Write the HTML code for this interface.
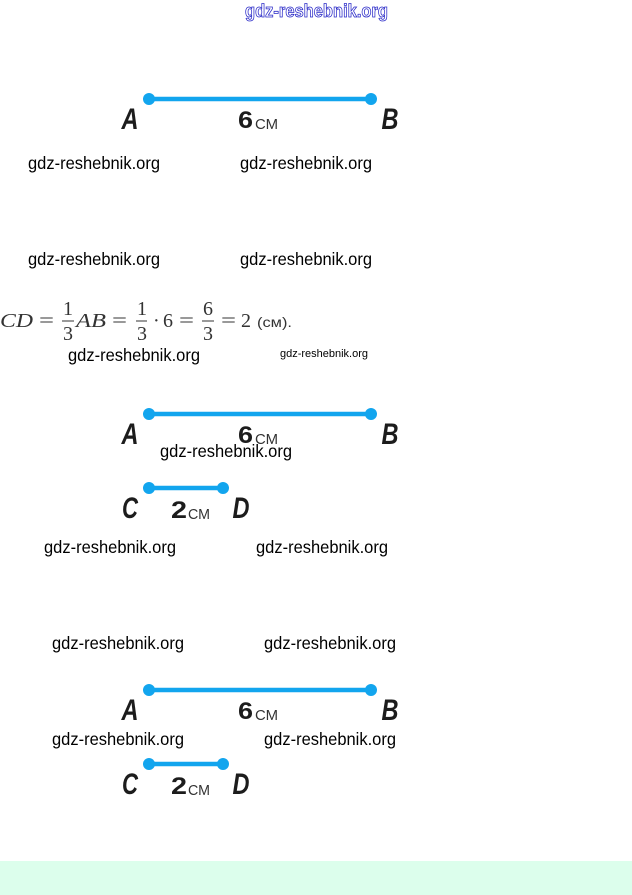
<!DOCTYPE html>
<html><head><meta charset="utf-8"><style>
html,body{margin:0;padding:0;background:#fff;width:632px;height:895px;overflow:hidden}
svg{display:block}
.w{font-family:"Liberation Sans",sans-serif;font-size:17.5px;fill:#000}
.l{font-family:"Liberation Sans",sans-serif;font-size:30px;font-weight:bold;font-style:italic;fill:#1c1c1c}
.n{font-family:"Liberation Sans",sans-serif;font-size:24px;font-weight:bold;fill:#1c1c1c}
.c{font-family:"Liberation Sans",sans-serif;font-size:14.5px;fill:#333}
.m{font-family:"Liberation Serif",serif;font-size:20px;fill:#333}
.i{font-style:italic}
</style></head><body>
<svg width="632" height="895" viewBox="0 0 632 895" xmlns="http://www.w3.org/2000/svg">
<rect width="632" height="895" fill="#fff"/>
<rect y="861" width="632" height="34" fill="#dcfeec"/>
<text x="245" y="17" font-family="Liberation Sans, sans-serif" font-size="18" font-weight="bold" fill="#fff" stroke="#2a2ac8" stroke-width="0.8" textLength="143" lengthAdjust="spacingAndGlyphs">gdz-reshebnik.org</text>

<g>
<line x1="149" y1="99" x2="371" y2="99" stroke="#12a5ee" stroke-width="4.5"/>
<circle cx="149" cy="99" r="6" fill="#12a5ee"/><circle cx="371" cy="99" r="6" fill="#12a5ee"/>
<text class="l" x="121.5" y="129" textLength="17" lengthAdjust="spacingAndGlyphs">A</text>
<text class="l" x="381.5" y="129" textLength="17" lengthAdjust="spacingAndGlyphs">B</text>
<text class="n" x="238" y="128" textLength="15" lengthAdjust="spacingAndGlyphs">6</text>
<text class="c" x="255" y="129" textLength="23" lengthAdjust="spacingAndGlyphs">СМ</text>
</g>

<g>
<line x1="149" y1="414" x2="371" y2="414" stroke="#12a5ee" stroke-width="4.5"/>
<circle cx="149" cy="414" r="6" fill="#12a5ee"/><circle cx="371" cy="414" r="6" fill="#12a5ee"/>
<text class="l" x="121.5" y="444" textLength="17" lengthAdjust="spacingAndGlyphs">A</text>
<text class="l" x="381.5" y="444" textLength="17" lengthAdjust="spacingAndGlyphs">B</text>
<text class="n" x="238" y="443" textLength="15" lengthAdjust="spacingAndGlyphs">6</text>
<text class="c" x="255" y="444" textLength="23" lengthAdjust="spacingAndGlyphs">СМ</text>
<line x1="149" y1="488" x2="223" y2="488" stroke="#12a5ee" stroke-width="4.5"/>
<circle cx="149" cy="488" r="6" fill="#12a5ee"/><circle cx="223" cy="488" r="6" fill="#12a5ee"/>
<text class="l" x="122" y="518" textLength="16" lengthAdjust="spacingAndGlyphs">C</text>
<text class="l" x="232.5" y="518" textLength="17" lengthAdjust="spacingAndGlyphs">D</text>
<text class="n" x="171" y="518" textLength="16" lengthAdjust="spacingAndGlyphs">2</text>
<text class="c" x="188" y="519" textLength="22" lengthAdjust="spacingAndGlyphs">СМ</text>
</g>

<g>
<line x1="149" y1="690" x2="371" y2="690" stroke="#12a5ee" stroke-width="4.5"/>
<circle cx="149" cy="690" r="6" fill="#12a5ee"/><circle cx="371" cy="690" r="6" fill="#12a5ee"/>
<text class="l" x="121.5" y="720" textLength="17" lengthAdjust="spacingAndGlyphs">A</text>
<text class="l" x="381.5" y="720" textLength="17" lengthAdjust="spacingAndGlyphs">B</text>
<text class="n" x="238" y="719" textLength="15" lengthAdjust="spacingAndGlyphs">6</text>
<text class="c" x="255" y="720" textLength="23" lengthAdjust="spacingAndGlyphs">СМ</text>
<line x1="149" y1="764" x2="223" y2="764" stroke="#12a5ee" stroke-width="4.5"/>
<circle cx="149" cy="764" r="6" fill="#12a5ee"/><circle cx="223" cy="764" r="6" fill="#12a5ee"/>
<text class="l" x="122" y="794" textLength="16" lengthAdjust="spacingAndGlyphs">C</text>
<text class="l" x="232.5" y="794" textLength="17" lengthAdjust="spacingAndGlyphs">D</text>
<text class="n" x="171" y="794" textLength="16" lengthAdjust="spacingAndGlyphs">2</text>
<text class="c" x="188" y="795" textLength="22" lengthAdjust="spacingAndGlyphs">СМ</text>
</g>

<g>
<text class="m i" x="0" y="327" textLength="33" lengthAdjust="spacingAndGlyphs">CD</text>
<text class="m" x="39" y="327" textLength="15" lengthAdjust="spacingAndGlyphs">=</text>
<text class="m" x="63" y="315">1</text>
<line x1="62" y1="321" x2="74" y2="321" stroke="#333" stroke-width="1"/>
<text class="m" x="63" y="340">3</text>
<text class="m i" x="76" y="327" textLength="30" lengthAdjust="spacingAndGlyphs">AB</text>
<text class="m" x="112" y="327" textLength="15" lengthAdjust="spacingAndGlyphs">=</text>
<text class="m" x="137" y="315">1</text>
<line x1="136" y1="321" x2="147" y2="321" stroke="#333" stroke-width="1"/>
<text class="m" x="137" y="340">3</text>
<text class="m" x="153" y="327">·</text>
<text class="m" x="163" y="327">6</text>
<text class="m" x="179" y="327" textLength="15" lengthAdjust="spacingAndGlyphs">=</text>
<text class="m" x="203" y="315">6</text>
<line x1="202" y1="321" x2="214" y2="321" stroke="#333" stroke-width="1"/>
<text class="m" x="203" y="340">3</text>
<text class="m" x="221" y="327" textLength="15" lengthAdjust="spacingAndGlyphs">=</text>
<text class="m" x="241" y="327">2</text>
<text x="257" y="327" font-family="Liberation Sans, sans-serif" font-size="14" fill="#333" textLength="35" lengthAdjust="spacingAndGlyphs">(см).</text>
</g>

<g>
<text class="w" x="28" y="169" textLength="132" lengthAdjust="spacingAndGlyphs">gdz-reshebnik.org</text>
<text class="w" x="240" y="169" textLength="132" lengthAdjust="spacingAndGlyphs">gdz-reshebnik.org</text>
<text class="w" x="28" y="265" textLength="132" lengthAdjust="spacingAndGlyphs">gdz-reshebnik.org</text>
<text class="w" x="240" y="265" textLength="132" lengthAdjust="spacingAndGlyphs">gdz-reshebnik.org</text>
<text class="w" x="68" y="361" textLength="132" lengthAdjust="spacingAndGlyphs">gdz-reshebnik.org</text>
<text class="w" x="280" y="357" textLength="88" lengthAdjust="spacingAndGlyphs" style="font-size:11px">gdz-reshebnik.org</text>
<text class="w" x="160" y="457" textLength="132" lengthAdjust="spacingAndGlyphs">gdz-reshebnik.org</text>
<text class="w" x="44" y="553" textLength="132" lengthAdjust="spacingAndGlyphs">gdz-reshebnik.org</text>
<text class="w" x="256" y="553" textLength="132" lengthAdjust="spacingAndGlyphs">gdz-reshebnik.org</text>
<text class="w" x="52" y="649" textLength="132" lengthAdjust="spacingAndGlyphs">gdz-reshebnik.org</text>
<text class="w" x="264" y="649" textLength="132" lengthAdjust="spacingAndGlyphs">gdz-reshebnik.org</text>
<text class="w" x="52" y="745" textLength="132" lengthAdjust="spacingAndGlyphs">gdz-reshebnik.org</text>
<text class="w" x="264" y="745" textLength="132" lengthAdjust="spacingAndGlyphs">gdz-reshebnik.org</text>
</g>
</svg>
</body></html>
